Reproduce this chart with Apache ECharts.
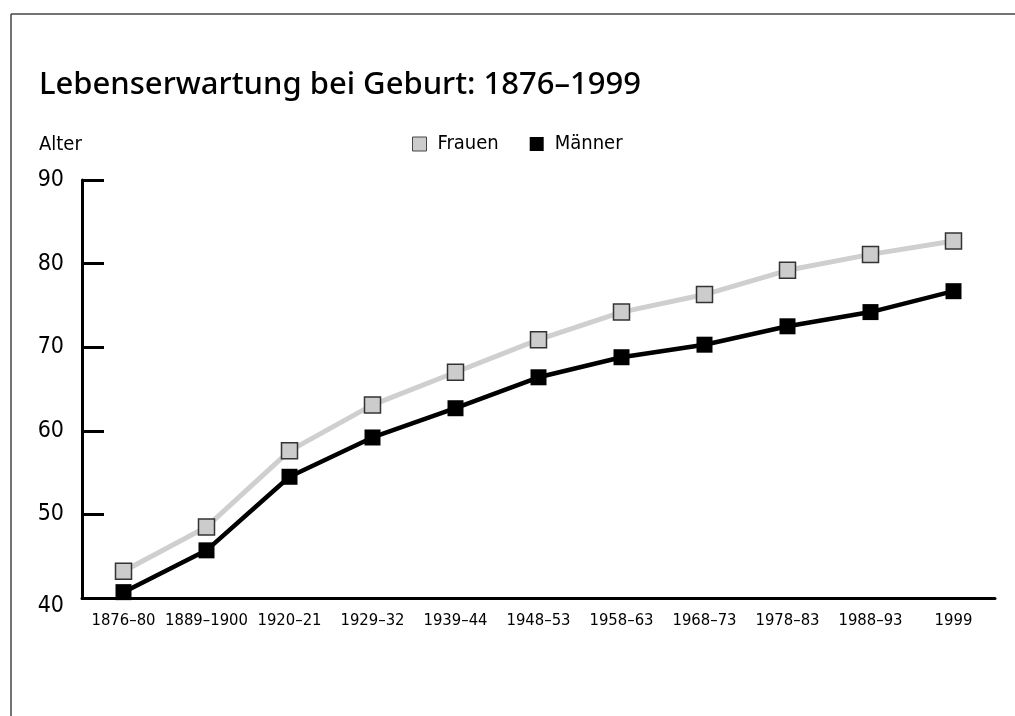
<!DOCTYPE html>
<html>
<head>
<meta charset="utf-8">
<script src="https://cdn.jsdelivr.net/npm/echarts@6/dist/echarts.min.js"></script>
<style>
html,body{margin:0;padding:0;background:#fff;}
#chart{width:1015px;height:716px;}
</style>
</head>
<body>
<div id="chart"></div>
<script>
const categories = ['1876–80','1889–1900','1920–21','1929–32','1939–44','1948–53','1958–63','1968–73','1978–83','1988–93','1999'];
const frauen = [43.2, 48.5, 57.6, 63.1, 67.0, 70.9, 74.2, 76.3, 79.2, 81.1, 82.7];
const maenner = [40.7, 45.7, 54.5, 59.2, 62.7, 66.4, 68.8, 70.3, 72.5, 74.2, 76.7];
const yTicks = {min: 40, max: 90, interval: 10};

const condensed = "'Liberation Sans Narrow','DejaVu Sans Condensed','Roboto Condensed',sans-serif";
const chart = echarts.init(document.getElementById('chart'), null, {renderer: 'canvas'});
chart.setOption({
  backgroundColor: '#fff',
  animation: false,
  title: [
    {text: 'Lebenserwartung bei Geburt: 1876–1999', left: 34, top: 65,
     textStyle: {fontFamily: "'Noto Sans',sans-serif", fontWeight: 500, fontSize: 31, color: '#000'}},
    {text: 'Alter', left: 34, top: 130,
     textStyle: {fontFamily: condensed, fontWeight: 'normal', fontSize: 20, color: '#000'}}
  ],
  legend: {
    left: 407, top: 129, itemWidth: 14, itemHeight: 14, itemGap: 31,
    textStyle: {fontFamily: condensed, fontSize: 20, color: '#000', padding: [0, 0, 0, 6]},
    data: [
      {name: 'Frauen', icon: 'rect', itemStyle: {color: '#cccccc', borderColor: '#444', borderWidth: 1}},
      {name: 'Männer', icon: 'rect', itemStyle: {color: '#000', borderWidth: 0}}
    ]
  },
  graphic: [
    {type: 'line', shape: {x1: 11, y1: 14, x2: 1015, y2: 14}, style: {stroke: '#444', lineWidth: 1.5}},
    {type: 'line', shape: {x1: 11, y1: 14, x2: 11, y2: 716}, style: {stroke: '#444', lineWidth: 1.5}}
  ],
  grid: {left: 82, right: 20, top: 180, bottom: 118, containLabel: false},
  xAxis: {
    type: 'category', data: categories, boundaryGap: true,
    axisLine: {lineStyle: {color: '#000', width: 3}},
    axisTick: {inside: true, length: 11, lineStyle: {color: '#000', width: 2.5}},
    axisLabel: {fontFamily: condensed, fontSize: 16.5, color: '#000', margin: 14, interval: 0}
  },
  yAxis: {
    type: 'value', min: yTicks.min, max: yTicks.max, interval: yTicks.interval,
    axisLine: {show: true, lineStyle: {color: '#000', width: 3}},
    axisTick: {show: true, inside: true, length: 22, lineStyle: {color: '#000', width: 3}},
    axisLabel: {fontFamily: condensed, fontSize: 23, color: '#000', margin: 18,
      formatter: v => v === yTicks.min ? '{low|' + v + '}' : String(v),
      rich: {low: {fontFamily: condensed, fontSize: 23, color: '#000', padding: [16, 0, 0, 0]}}},
    splitLine: {show: false}
  },
  series: [
    {name: 'Frauen', type: 'line', data: frauen, symbol: 'rect', symbolSize: 16,
     lineStyle: {color: '#cfcfcf', width: 5},
     itemStyle: {color: '#cccccc', borderColor: '#333', borderWidth: 1.5}, z: 2},
    {name: 'Männer', type: 'line', data: maenner, symbol: 'rect', symbolSize: 16,
     lineStyle: {color: '#000', width: 4.5},
     itemStyle: {color: '#000', borderWidth: 0}, z: 3}
  ]
});
</script>
</body>
</html>
